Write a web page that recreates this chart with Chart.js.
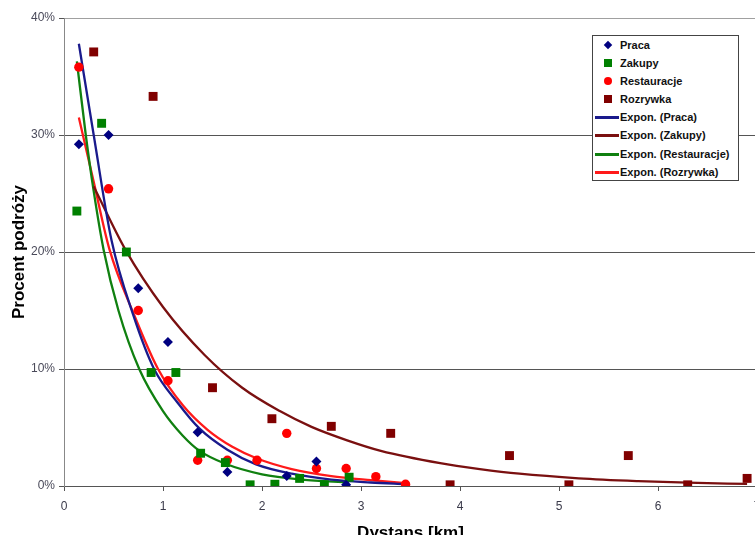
<!DOCTYPE html>
<html>
<head>
<meta charset="utf-8">
<script src="https://cdn.jsdelivr.net/npm/chart.js@4/dist/chart.umd.min.js"></script>
<style>
    html, body { margin: 0; padding: 0; background: #fff; }
    #wrap { position: relative; width: 755px; height: 535px; overflow: hidden; }
    #c { position: absolute; left: 0; top: 0; }
    #legend {
        position: absolute; left: 592px; top: 35px; width: 145px; height: 144px;
        border: 1px solid #444; background: #fff; overflow: hidden;
        font: bold 11px "Liberation Sans", Arial, sans-serif; color: #111;
    }
    #legend .item { position: relative; height: 18.1px; line-height: 18px; padding-left: 27px; white-space: nowrap; }
    #legend .line { position: absolute; left: 2px; top: 8px; width: 24px; height: 3px; }
    #legend .mk { position: absolute; left: 11px; top: 5px; width: 8px; height: 8px; }
    #legend .mk.circle { border-radius: 50%; }
    #legend .mk.rectRot { width: 6px; height: 6px; left: 12px; top: 6px; transform: rotate(45deg); }
</style>
</head>
<body>
<div id="wrap">
    <canvas id="c" width="780" height="545"></canvas>
    <div id="legend"></div>
</div>
<script>
// measured points (km, % of trips)
var pracaX = [0.15, 0.45, 0.75, 1.05, 1.35, 1.65, 2.25, 2.55, 2.85];
var pracaY = [29.2, 30.0, 16.9, 12.3, 4.6, 1.2, 0.85, 2.1, 0.1];

var zakupyX = [0.13, 0.38, 0.63, 0.88, 1.13, 1.38, 1.63, 1.88, 2.13, 2.38, 2.63, 2.88];
var zakupyY = [23.5, 31.0, 20.0, 9.7, 9.7, 2.8, 2.0, 0.1, 0.15, 0.65, 0.1, 0.75];

var restauracjeX = [0.15, 0.45, 0.75, 1.05, 1.35, 1.65, 1.95, 2.25, 2.55, 2.85, 3.15, 3.45];
var restauracjeY = [35.8, 25.4, 15.0, 9.0, 2.2, 2.2, 2.2, 4.5, 1.5, 1.5, 0.8, 0.15];

var rozrywkaX = [0.3, 0.9, 1.5, 2.1, 2.7, 3.3, 3.9, 4.5, 5.1, 5.7, 6.3, 6.9];
var rozrywkaY = [37.1, 33.3, 8.4, 5.75, 5.1, 4.5, 0.1, 2.6, 0.1, 2.6, 0.1, 0.65];

// trend curves
var trendPracaX = [0.15, 0.3, 0.48, 0.7, 0.91, 1.15, 1.37, 1.65, 1.94, 2.3, 2.7, 3.1, 3.45];
var trendPracaY = [37.8, 30.0, 21.0, 14.6, 10.0, 7.1, 4.9, 3.1, 1.85, 1.05, 0.55, 0.3, 0.15];

var trendZakupyX = [0.3, 0.62, 1.0, 1.42, 1.8, 2.18, 2.5, 2.86, 3.2, 3.8, 4.2, 4.6, 5.2, 5.8, 6.3, 6.9];
var trendZakupyY = [25.6, 20.2, 15.3, 11.2, 8.4, 6.4, 5.05, 3.9, 3.0, 1.95, 1.45, 1.05, 0.66, 0.42, 0.28, 0.18];

var trendRestauracjeX = [0.13, 0.22, 0.3, 0.4, 0.55, 0.76, 1.0, 1.2, 1.37, 1.63, 2.0, 2.4, 2.88];
var trendRestauracjeY = [36.3, 30.0, 25.2, 20.2, 15.0, 10.0, 6.4, 4.3, 3.0, 1.9, 1.0, 0.55, 0.3];

var trendRozrywkaX = [0.15, 0.3, 0.46, 0.7, 0.95, 1.2, 1.45, 1.7, 1.95, 2.3, 2.7, 3.1, 3.45];
var trendRozrywkaY = [31.5, 26.0, 20.2, 14.8, 10.0, 6.9, 4.8, 3.35, 2.35, 1.45, 0.85, 0.5, 0.25];

var yTicks = [0, 10, 20, 30, 40];

function pts(xs, ys) {
    return xs.map((x, i) => ({ x: x, y: ys[i] }));
}

function markers(label, xs, ys, color, style, r) {
    return {
        label: label,
        data: pts(xs, ys),
        backgroundColor: color,
        borderColor: color,
        borderWidth: 0,
        pointStyle: style,
        pointRadius: r,
        showLine: false
    };
}

function trend(label, xs, ys, color) {
    return {
        label: label,
        data: pts(xs, ys),
        borderColor: color,
        backgroundColor: color,
        borderWidth: 2.3,
        pointRadius: 0,
        showLine: true,
        cubicInterpolationMode: 'monotone'
    };
}

var tickFont = { family: '"Liberation Sans", Arial, sans-serif', size: 12 };
var titleFont = { family: '"Liberation Sans", Arial, sans-serif', size: 17, weight: 'bold' };

var chart = new Chart("c", {
    type: 'scatter',
    data: {
        datasets: [
            markers('Praca', pracaX, pracaY, '#000080', 'rectRot', 5),
            markers('Zakupy', zakupyX, zakupyY, '#008000', 'rect', 6.3),
            markers('Restauracje', restauracjeX, restauracjeY, '#ff0000', 'circle', 4.7),
            markers('Rozrywka', rozrywkaX, rozrywkaY, '#800000', 'rect', 6.3),
            trend('Expon. (Praca)', trendPracaX, trendPracaY, '#1a1a8c'),
            trend('Expon. (Zakupy)', trendZakupyX, trendZakupyY, '#7a1010'),
            trend('Expon. (Restauracje)', trendRestauracjeX, trendRestauracjeY, '#108010'),
            trend('Expon. (Rozrywka)', trendRozrywkaX, trendRozrywkaY, '#ff1a1a')
        ]
    },
    options: {
        responsive: false,
        animation: false,
        devicePixelRatio: 1,
        layout: {
            padding: { top: 18, right: 23, left: 0, bottom: 0 }
        },
        scales: {
            x: {
                type: 'linear',
                min: 0,
                max: 7,
                afterFit: function (s) { s.height = 59; },
                ticks: {
                    stepSize: 1,
                    color: '#3a3a4a',
                    font: tickFont,
                    padding: 8
                },
                grid: {
                    drawOnChartArea: false,
                    tickLength: 5,
                    tickColor: '#555'
                },
                border: { color: '#555', width: 1 },
                title: {
                    display: true,
                    text: 'Dystans [km]',
                    color: '#000',
                    font: titleFont,
                    padding: { top: 0, bottom: 1 }
                }
            },
            y: {
                min: 0,
                max: 40,
                afterFit: function (s) { s.width = 64; },
                afterBuildTicks: function (s) { s.ticks = yTicks.map(v => ({ value: v })); },
                ticks: {
                    color: '#4a4a5a',
                    font: tickFont,
                    padding: 4,
                    callback: v => v + '%'
                },
                grid: {
                    color: c => c.tick && c.tick.value === 40 ? '#a0a0a0' : '#555',
                    lineWidth: 1,
                    tickLength: 5,
                    tickColor: '#555'
                },
                border: { color: '#888', width: 1 },
                title: {
                    display: true,
                    text: 'Procent podróży',
                    color: '#000',
                    font: titleFont,
                    padding: { top: 9, bottom: 0 }
                }
            }
        },
        plugins: {
            legend: { display: false },
            tooltip: { enabled: false }
        }
    }
});

// legend box drawn in html, from the chart's own datasets
var box = document.getElementById('legend');
chart.data.datasets.forEach(ds => {
    var row = document.createElement('div');
    row.className = 'item';
    var sym = document.createElement('span');
    if (ds.showLine) {
        sym.className = 'line';
        sym.style.background = ds.borderColor;
    } else {
        sym.className = 'mk ' + ds.pointStyle;
        sym.style.background = ds.backgroundColor;
    }
    row.appendChild(sym);
    row.appendChild(document.createTextNode(ds.label));
    box.appendChild(row);
});
</script>
</body>
</html>
